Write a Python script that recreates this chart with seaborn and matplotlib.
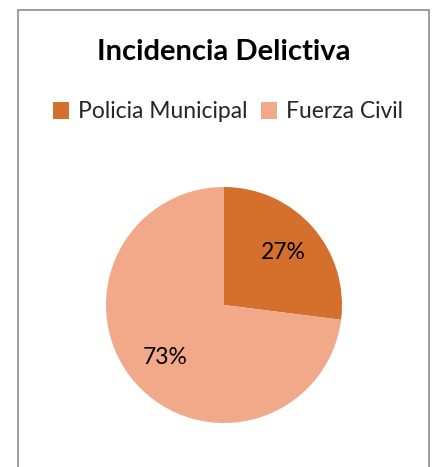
import matplotlib

matplotlib.use("Agg")

import matplotlib.pyplot as plt
import seaborn as sns
from matplotlib.patches import Patch, Rectangle

categories = ["Policia Municipal", "Fuerza Civil"]
shares = [27, 73]
colors = ["#D46F2C", "#F1A98A"]
title = "Incidencia Delictiva"

sns.set_theme(style="white")
plt.rcParams["font.family"] = ["Lato", "DejaVu Sans"]

W, H = 432, 467
fig = plt.figure(figsize=(W / 100, H / 100), dpi=100)
fig.patch.set_facecolor("white")

# chart frame (bottom runs off the image)
fig.add_artist(Rectangle((18 / W, -0.05), (429 - 18) / W, 1.05 - 10 / H,
                         transform=fig.transFigure, fill=False,
                         edgecolor="#8c8c8c", linewidth=1.2))

cx, cy, r = 224, 305, 118
ax = fig.add_axes([(cx - r) / W, (H - cy - r) / H, 2 * r / W, 2 * r / H])
wedges, texts, autotexts = ax.pie(
    shares, colors=colors, startangle=90, counterclock=False,
    autopct=lambda p: f"{p:.0f}%", pctdistance=0.67,
    wedgeprops={"linewidth": 0},
    textprops={"fontsize": 16.5, "color": "black"},
)
ax.set_xlim(-1, 1)
ax.set_ylim(-1, 1)
ax.set_aspect("equal")
ax.axis("off")

fig.text(cx / W, 1 - 52 / H, title, ha="center", va="center",
         fontsize=21, fontweight="bold", color="black")

handles = [Patch(facecolor=c, edgecolor="none") for c in colors]
fig.legend(handles, categories, loc="center", bbox_to_anchor=(228 / W, 1 - 112 / H),
           ncol=2, frameon=False, fontsize=16.5, handlelength=0.7, handleheight=0.7,
           handletextpad=0.4, columnspacing=0.6)

fig.savefig("out.png", dpi=100)
